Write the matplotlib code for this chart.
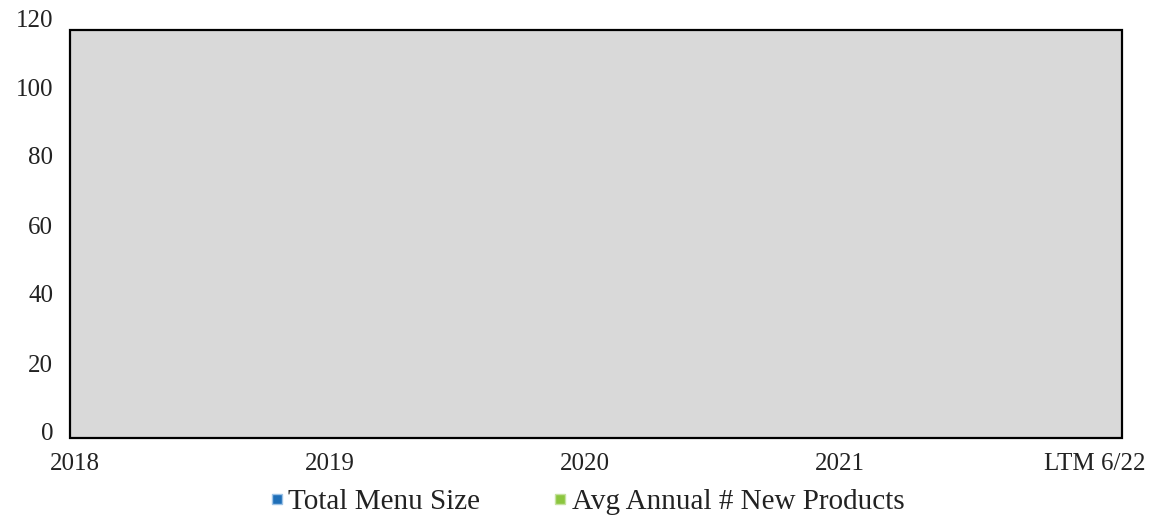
import matplotlib
matplotlib.use("Agg")
import matplotlib.pyplot as plt
import numpy as np
from matplotlib.patches import Rectangle
from matplotlib.lines import Line2D

categories = ["2018", "2019", "2020", "2021", "LTM 6/22"]
total_menu_size = [np.nan, np.nan, np.nan, np.nan, np.nan]
avg_new_products = [np.nan, np.nan, np.nan, np.nan, np.nan]
y_ticks = [0, 20, 40, 60, 80, 100, 120]

plt.rcParams['font.family'] = ['Liberation Serif', 'DejaVu Serif']

W, H = 1165, 516
fig = plt.figure(figsize=(W / 100, H / 100), dpi=100)

# gray plot box
fig.patches.append(Rectangle((70 / W, 1 - 438 / H), (1122 - 70) / W, (438 - 30) / H,
                             transform=fig.transFigure, facecolor="#D9D9D9",
                             edgecolor="black", linewidth=1.6, zorder=0))

ax = fig.add_axes([70 / W, 1 - 432 / H, (1122 - 70) / W, (432 - 18) / H])
ax.patch.set_visible(False)
for s in ax.spines.values():
    s.set_visible(False)

x = np.arange(len(categories))
ax.bar(x - 0.15, total_menu_size, width=0.3, color="#1F6FB8", label="Total Menu Size")
ax.bar(x + 0.15, avg_new_products, width=0.3, color="#8CC63F", label="Avg Annual # New Products")

ax.set_xlim(-5 / 255, 4 + 27 / 255)
ax.set_ylim(0, 120)
ax.set_yticks(y_ticks)
ax.set_yticklabels([str(v) for v in y_ticks], fontsize=18, color="#222222")
ax.set_xticks(x)
ax.set_xticklabels(categories, fontsize=18, color="#222222")
ax.tick_params(axis="y", length=0, pad=12)
ax.tick_params(axis="x", length=0, pad=15)

handles = [Line2D([], [], marker="s", linestyle="none", markersize=7.5,
                  markerfacecolor="#1F6FB8", markeredgecolor="#9EC3E6"),
           Line2D([], [], marker="s", linestyle="none", markersize=7.5,
                  markerfacecolor="#8CC63F", markeredgecolor="#C6E2A0")]
fig.legend(handles, ["Total Menu Size", "Avg Annual # New Products"],
           loc="center", bbox_to_anchor=(587 / W, 1 - 502 / H), ncol=2,
           frameon=False, fontsize=21, handlelength=0.5, handletextpad=0.15,
           columnspacing=2.5, labelcolor="#222222", borderpad=0.1)

fig.savefig("out.png", dpi=100)
